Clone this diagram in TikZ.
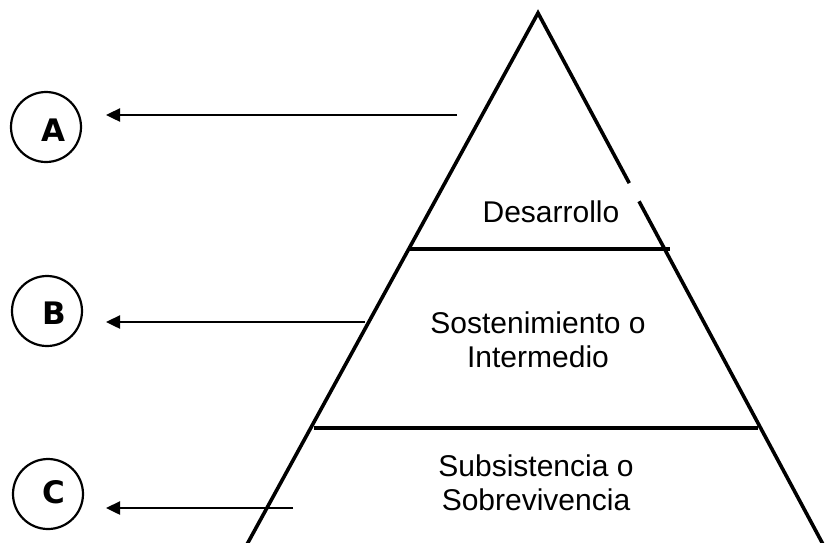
\documentclass[tikz,border=0pt]{standalone}
\usepackage{fontspec}
\setmainfont{Liberation Sans}
\newfontfamily\heavyfont{DejaVu Sans}
\usetikzlibrary{arrows.meta,calc}
\begin{document}
\begin{tikzpicture}[x=1pt,y=-1pt,
  side/.style={line width=3.6pt,line join=miter},
  level/.style={line width=4pt},
  ring/.style={circle,draw,line width=2.2pt,minimum size=70pt,inner sep=0pt},
  letter/.style={font=\heavyfont\bfseries\fontsize{31}{31}\selectfont,inner sep=0pt},
  pointer/.style={line width=2.4pt,-{Triangle[length=14pt,width=13pt]}},
  lbl/.style={font=\fontsize{30}{34}\selectfont,align=center,inner sep=0pt}
]
\useasboundingbox (0,0) rectangle (829,542);
\clip (0,0) rectangle (829,542);
% pyramid
\coordinate (apex) at (538,13);
\coordinate (bl) at (245,548);
\coordinate (br) at (825,548);
\coordinate (gapT) at ($(apex)!0.318!(br)$);
\coordinate (gapB) at ($(apex)!0.352!(br)$);
\draw[side] (bl) -- (apex) -- (gapT);
\draw[side] (gapB) -- (br);
\coordinate (l1a) at (410,249);
\coordinate (l1b) at (670,249);
\coordinate (l2a) at (314,428);
\coordinate (l2b) at (758,428);
\draw[level] (l1a) -- (l1b);
\draw[level] (l2a) -- (l2b);
% level labels
\node[lbl,anchor=base] (des) at (551,222) {Desarrollo};
\node[lbl] (sos) at (538,340) {Sostenimiento o\\Intermedio};
\node[lbl] (sub) at (536,483) {Subsistencia o\\Sobrevivencia};
% circles
\node[ring] (cA) at (46,127) {};
\node[ring] (cB) at (47,311) {};
\node[ring] (cC) at (48,494) {};
\node[letter] (lA) at (53,130) {A};
\node[letter] (lB) at (54,313) {B};
\node[letter] (lC) at (54,492) {C};
% arrows
\coordinate (sA) at (457,115);
\coordinate (tA) at (106,115);
\coordinate (sB) at (365,322);
\coordinate (tB) at (106,322);
\coordinate (sC) at (293,508);
\coordinate (tC) at (106,508);
\draw[pointer] (sA) -- (tA);
\draw[pointer] (sB) -- (tB);
\draw[pointer] (sC) -- (tC);
\end{tikzpicture}
\end{document}
